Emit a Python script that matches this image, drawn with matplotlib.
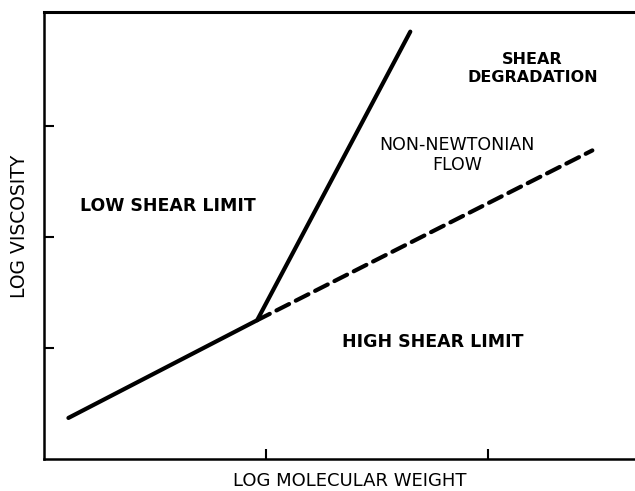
import matplotlib.pyplot as plt

# values (log units, arbitrary)
solid_x = [0.11, 0.96, 1.65]
solid_y = [0.37, 1.25, 3.85]
dashed_x = [0.96, 2.47]
dashed_y = [1.25, 2.78]

x_ticks = [1, 2]
y_ticks = [1, 2, 3]

region_labels = ["LOW SHEAR LIMIT", "HIGH SHEAR LIMIT"]
region_pos = [(0.56, 2.28), (1.75, 1.05)]
flow_labels = ["NON-NEWTONIAN\nFLOW", "SHEAR\nDEGRADATION"]
flow_pos = [(1.86, 2.74), (2.20, 3.52)]

fig = plt.figure(figsize=(6.35, 4.91), dpi=100)
ax = fig.add_axes([44 / 635, 32 / 491, 1 - 44 / 635, 447 / 491])

ax.plot(solid_x, solid_y, color="black", lw=3.0, solid_capstyle="round")
ax.plot(dashed_x, dashed_y, color="black", lw=3.0, ls=(0, (3.4, 1.8)),
        dash_capstyle="round")

ax.set_xlim(0, 591 / 222)
ax.set_ylim(0, 447 / 111)
ax.set_xticks(x_ticks)
ax.set_yticks(y_ticks)
ax.set_xticklabels([])
ax.set_yticklabels([])
ax.tick_params(direction="in", length=7, width=1.5, color="black")

ax.spines["right"].set_visible(False)
ax.spines["top"].set_linewidth(2.2)
ax.spines["left"].set_linewidth(1.8)
ax.spines["bottom"].set_linewidth(1.8)

for txt, (x, y) in zip(region_labels, region_pos):
    ax.text(x, y, txt, ha="center", va="center", fontsize=12.5,
            fontweight="bold", family="DejaVu Sans")
ax.text(*flow_pos[0], flow_labels[0], ha="center", va="center",
        fontsize=12.5, family="DejaVu Sans", linespacing=1.15)
ax.text(*flow_pos[1], flow_labels[1], ha="center", va="center",
        fontsize=11.5, fontweight="bold", family="DejaVu Sans",
        linespacing=1.25)

# axis titles placed on the figure so they fit the tight canvas
fig.text(350 / 635, 1 - 481 / 491, "LOG MOLECULAR WEIGHT", ha="center",
         va="center", fontsize=13)
fig.text(20 / 635, 1 - 226 / 491, "LOG VISCOSITY", ha="center",
         va="center", rotation=90, fontsize=13.5)

fig.savefig("out.png", dpi=100)
